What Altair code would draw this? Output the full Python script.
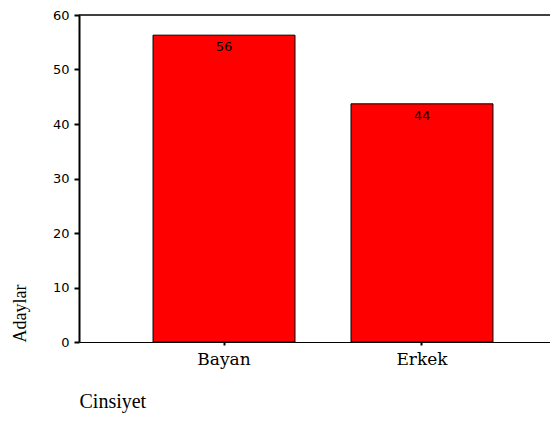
import altair as alt
import pandas as pd

categories = ["Bayan", "Erkek"]
values = [56.3, 43.7]
labels = ["56", "44"]

df = pd.DataFrame({"Cinsiyet": categories, "Adaylar": values, "label": labels})

W, H = 471, 327

x = alt.X("Cinsiyet:N", sort=categories,
          scale=alt.Scale(paddingInner=0.283, paddingOuter=0.374, range=[0, 488]),
          axis=alt.Axis(title="Cinsiyet", labelAngle=0, labelFont="DejaVu Serif",
                        labelFontSize=17, labelColor="black", labelPadding=6,
                        tickSize=3, tickWidth=2, tickColor="black",
                        domainColor="black", domainWidth=1,
                        titleFont="Liberation Serif", titleFontSize=20, titleFontWeight="normal",
                        titleColor="black", titleAnchor="start", titleAlign="left",
                        titleX=0, titleY=65, titleBaseline="alphabetic"))
y = alt.Y("Adaylar:Q", scale=alt.Scale(domain=[0, 60], nice=False),
          axis=alt.Axis(title="Adaylar", values=[0, 10, 20, 30, 40, 50, 60], grid=False,
                        labelFont="DejaVu Sans", labelFontSize=13, labelColor="black",
                        labelPadding=5, tickSize=5, tickWidth=2, tickColor="black",
                        domainColor="black", domainWidth=2,
                        titleFont="Liberation Serif", titleFontSize=18, titleFontWeight="normal",
                        titleColor="black", titleAngle=270, titleAlign="left",
                        titleBaseline="alphabetic", titleX=-54, titleY=H))

bars = alt.Chart(df).mark_bar(color="#ff0000", stroke="black", strokeWidth=1).encode(x=x, y=y)
text = alt.Chart(df).mark_text(baseline="top", dy=6, font="DejaVu Sans", fontSize=13,
                               color="black").encode(x="Cinsiyet:N", y="Adaylar:Q", text="label:N")
top = alt.Chart(df).mark_rule(color="black", strokeWidth=1).encode(
    x=alt.value(0), x2=alt.value(W + 10), y=alt.value(0))

chart = alt.layer(bars, text, top).properties(
    width=W, height=H,
    autosize=alt.AutoSizeParams(type="none"),
    padding={"left": 71, "top": 7, "right": 0, "bottom": 73},
).configure_view(stroke=None)

chart.save("out.html", embed_options={"renderer": "svg", "actions": False})
